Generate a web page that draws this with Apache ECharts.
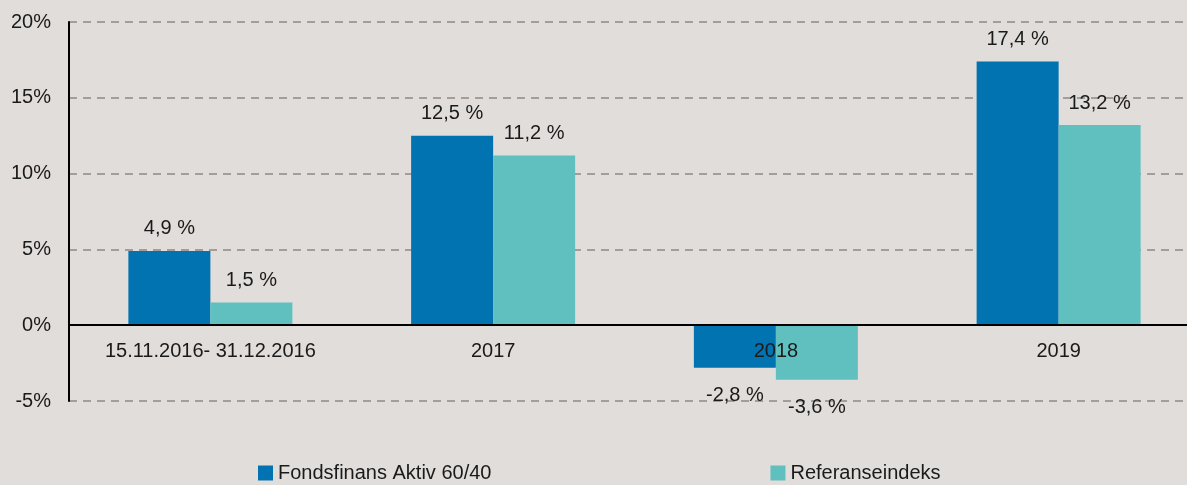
<!DOCTYPE html>
<html>
<head>
<meta charset="utf-8">
<script src="https://cdn.jsdelivr.net/npm/echarts@6/dist/echarts.min.js"></script>
<style>
html,body{margin:0;padding:0;background:#e0dddb;}
#chart{width:1187px;height:485px;}
</style>
</head>
<body>
<div id="chart"></div>
<script>
var categories=['15.11.2016- 31.12.2016','2017','2018','2019'];
var fondData=[4.9,12.5,-2.8,17.4];
var refData=[1.5,11.2,-3.6,13.2];
var seriesNames=['Fondsfinans Aktiv 60/40','Referanseindeks'];

var fontName='"Liberation Sans", Arial, sans-serif';

// negative bars get their label under the bar
function toItems(arr){
    return arr.map(function(v){
        return {value:v,label:{position:v<0?'bottom':'top',distance:v<0?18:12}};
    });
}
function fmt(p){
    return String(p.value).replace('.',',')+' %';
}

var myChart=echarts.init(document.getElementById('chart'));
var option={
    backgroundColor:'#e0dddb',
    animation:false,
    textStyle:{fontFamily:fontName},
    grid:{left:69,width:1131,top:22,height:379,containLabel:false,outerBoundsMode:'none'},
    legend:{
        bottom:-3,
        left:253,
        itemWidth:15,
        itemHeight:15,
        itemGap:279,
        itemStyle:{borderWidth:0},
        icon:'rect',
        textStyle:{color:'#1a1a1a',fontSize:20,fontFamily:fontName},
        data:seriesNames
    },
    xAxis:[{
        type:'category',
        z:10,
        data:categories,
        axisTick:{show:false},
        axisLine:{onZero:true,lineStyle:{color:'#000',width:2}},
        axisLabel:{color:'#1a1a1a',fontSize:20,margin:-60,interval:0,hideOverlap:false}
    }],
    yAxis:[{
        type:'value',
        min:-5,
        max:20,
        interval:5,
        axisLine:{show:true,lineStyle:{color:'#000',width:2}},
        axisTick:{show:false},
        axisLabel:{color:'#1a1a1a',fontSize:20,margin:18,formatter:'{value}%'},
        splitLine:{show:true,lineStyle:{color:'#a59d99',width:2,type:[8,6]}}
    }],
    series:[
        {
            name:seriesNames[0],
            type:'bar',
            barWidth:82,
            barGap:'0%',
            itemStyle:{color:'#0073b0'},
            label:{show:true,color:'#1a1a1a',fontSize:20,formatter:fmt},
            data:toItems(fondData)
        },
        {
            name:seriesNames[1],
            type:'bar',
            barWidth:82,
            barGap:'0%',
            itemStyle:{color:'#60c0c0'},
            label:{show:true,color:'#1a1a1a',fontSize:20,formatter:fmt},
            data:toItems(refData)
        }
    ]
};
myChart.setOption(option);
</script>
</body>
</html>
